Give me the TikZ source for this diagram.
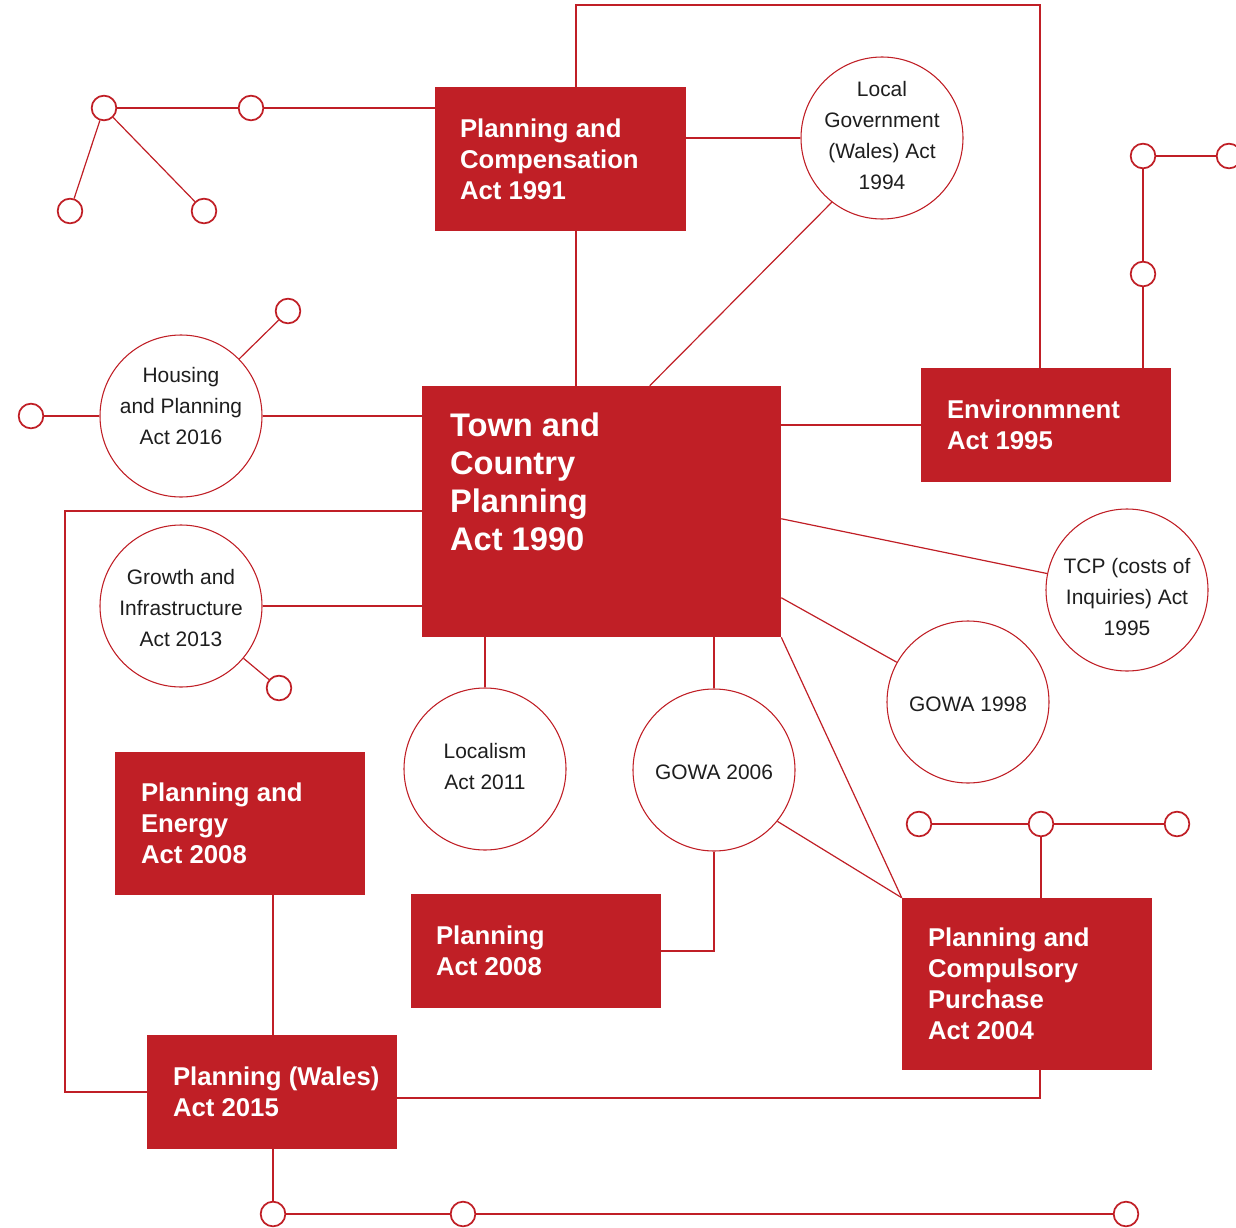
\documentclass[tikz,border=0pt]{standalone}
\usepackage{fontspec}
\setmainfont{Liberation Sans}
\usetikzlibrary{fit,calc}
\definecolor{actred}{RGB}{192,31,38}
\definecolor{txtgrey}{RGB}{30,30,30}
\begin{document}
\begin{tikzpicture}[x=0.75pt,y=-0.75pt,
  actbox/.style={rectangle, fill=actred, draw=none, inner sep=0pt},
  acttext/.style={text=white, font=\bfseries\fontsize{19.3}{23.25}\selectfont, align=left, inner sep=0pt, anchor=west},
  bigcirc/.style={circle, draw=actred, line width=0.8pt, fill=white, minimum size=121.5pt, inner sep=0pt, align=center, text=txtgrey, font=\fontsize{15.7}{23.25}\selectfont},
  circtext/.style={align=center, inner sep=0pt, text=txtgrey, font=\fontsize{15.7}{23.25}\selectfont},
  dot/.style={circle, draw=actred, line width=1.3pt, fill=white, minimum size=18.5pt, inner sep=0pt},
  link/.style={draw=actred, line width=0.9pt}]
\useasboundingbox (0,0) rectangle (1236,1228);

% boxes
\node[actbox, fit={(435,87) (686,231)}] (pca) {};
\node[actbox, fit={(422,386) (781,637)}] (tcpa) {};
\node[actbox, fit={(921,368) (1171,482)}] (env) {};
\node[actbox, fit={(115,752) (365,895)}] (pe) {};
\node[actbox, fit={(411,894) (661,1008)}] (pa) {};
\node[actbox, fit={(902,898) (1152,1070)}] (pcpa) {};
\node[actbox, fit={(147,1035) (397,1149)}] (pw) {};

\node[acttext] (pca-t) at ($(pca.west)+(25,0)$) {Planning and\\Compensation\\Act 1991};
\node[acttext, font=\bfseries\fontsize{24.5}{28.5}\selectfont, anchor=north west] (tcpa-t) at ($(tcpa.north west)+(28,27)$) {Town and\\Country\\Planning\\Act 1990};
\node[acttext] (env-t) at ($(env.west)+(26,0)$) {Environmnent\\Act 1995};
\node[acttext] (pe-t) at ($(pe.west)+(26,0)$) {Planning and\\Energy\\Act 2008};
\node[acttext] (pa-t) at ($(pa.west)+(25,0)$) {Planning\\Act 2008};
\node[acttext] (pcpa-t) at ($(pcpa.west)+(26,0)$) {Planning and\\Compulsory\\Purchase\\Act 2004};
\node[acttext] (pw-t) at ($(pw.west)+(26,0)$) {Planning (Wales)\\Act 2015};

% big circles
\node[bigcirc] (lga) at (882,138) {};
\node[circtext] (lga-t) at (882,136) {Local\\Government\\(Wales) Act\\1994};
\node[bigcirc] (hpa) at (181,416) {};
\node[circtext] (hpa-t) at (181,406) {Housing\\and Planning\\Act 2016};
\node[bigcirc] (gia) at (181,606) {};
\node[circtext] (gia-t) at (181,608) {Growth and\\Infrastructure\\Act 2013};
\node[bigcirc] (loc) at (485,769) {};
\node[circtext] (loc-t) at (485,767) {Localism\\Act 2011};
\node[bigcirc] (g06) at (714,770) {};
\node[circtext] (g06-t) at (714,772) {GOWA 2006};
\node[bigcirc] (g98) at (968,702) {};
\node[circtext] (g98-t) at (968,704) {GOWA 1998};
\node[bigcirc] (tcp) at (1127,590) {};
\node[circtext] (tcp-t) at (1127,597) {TCP (costs of\\Inquiries) Act\\1995};

% small circles
\node[dot] (s1) at (104,108) {};
\node[dot] (s2) at (251,108) {};
\node[dot] (s3) at (70,211) {};
\node[dot] (s4) at (204,211) {};
\node[dot] (sh1) at (31,416) {};
\node[dot] (sh2) at (288,311) {};
\node[dot] (sg) at (279,688) {};
\node[dot] (se1) at (1143,156) {};
\node[dot] (se2) at (1143,274) {};
\node[dot] (se3) at (1229,156) {};
\node[dot] (sp1) at (919,824) {};
\node[dot] (sp2) at (1041,824) {};
\node[dot] (sp3) at (1177,824) {};
\node[dot] (sb1) at (273,1214) {};
\node[dot] (sb2) at (463,1214) {};
\node[dot] (sb3) at (1126,1214) {};

\coordinate (c1) at (576,5);
\coordinate (c2) at (1040,5);
\coordinate (c3) at (65,511);
\coordinate (c4) at (1040,1098);

% connectors
\path[link] (s1) -- (s2);
\path[link] (s1) -- (s3);
\path[link] (s1) -- (s4);
\path[link] (s2) -- (s2 -| pca.west);
\path[link] (c1 |- pca.north) -- (c1) -- (c2) -- (c2 |- env.north);
\path[link] (lga -| pca.east) -- (lga);
\path[link] (c1 |- pca.south) -- (c1 |- tcpa.north);
\path[link] (lga.232) -- ($(tcpa.north west)+(228,0)$);
\path[link] (sh1) -- (hpa);
\path[link] (hpa) -- (sh2);
\path[link] (hpa) -- (hpa -| tcpa.west);
\path[link] (c3 -| tcpa.west) -- (c3) |- (pw.west);
\path[link] (gia) -- (gia -| tcpa.west);
\path[link] (gia) -- (sg);
\path[link] (env.west) -- (env.west -| tcpa.east);
\path[link] (se2 |- env.north) -- (se2);
\path[link] (se2) -- (se1);
\path[link] (se1) -- (se3);
\path[link] ($(tcpa.north east)+(0,133)$) -- (tcp);
\path[link] ($(tcpa.north east)+(0,212)$) -- (g98);
\path[link] (tcpa.south east) -- (pcpa.north west);
\path[link] (loc) -- (loc |- tcpa.south);
\path[link] ($(tcpa.south west)+(164,0)$) -- ($(tcpa.south west)+(164,0)$ |- pa.north);
\path[link] (g06) -- (g06 |- tcpa.south);
\path[link] (g06.south) |- (pa.east);
\path[link] (g06.321) -- (pcpa.north west);
\path[link] (sb1 |- pe.south) -- (sb1 |- pw.north);
\path[link] (sb1 |- pw.south) -- (sb1);
\path[link] (sb1) -- (sb2);
\path[link] (sb2) -- (sb3);
\path[link] (c4 -| pw.east) -- (c4) -- (c4 |- pcpa.south);
\path[link] (sp2) -- (sp2 |- pcpa.north);
\path[link] (sp1) -- (sp2);
\path[link] (sp2) -- (sp3);
\end{tikzpicture}
\end{document}
